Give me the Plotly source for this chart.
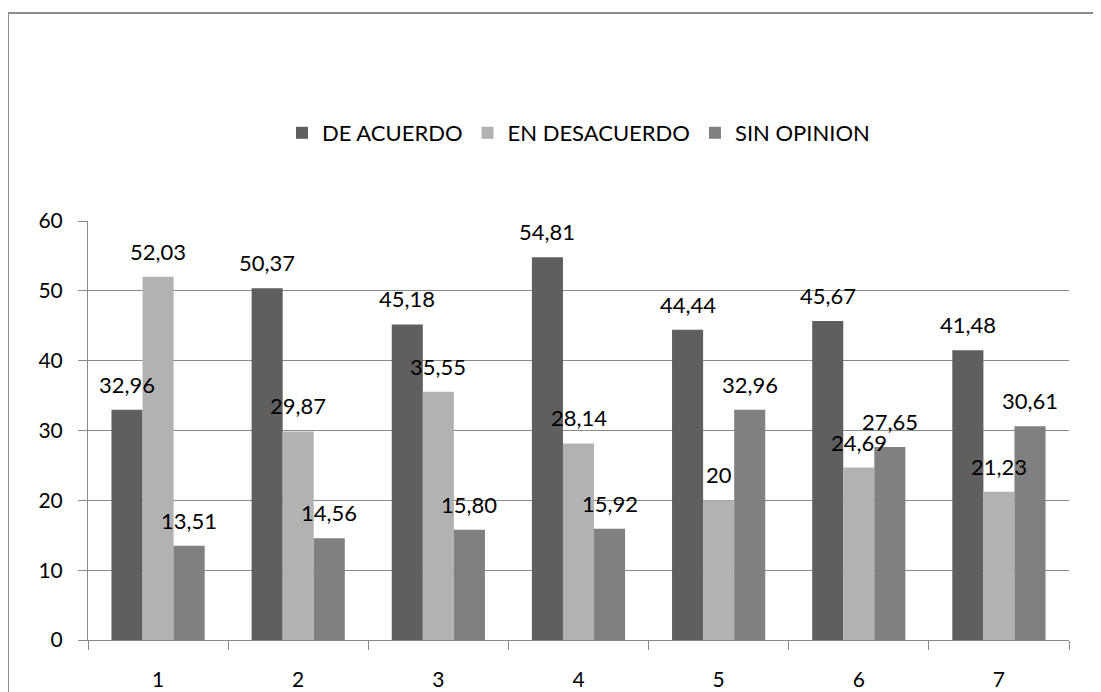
import plotly.graph_objects as go

categories = ["1", "2", "3", "4", "5", "6", "7"]
series_names = ["DE ACUERDO", "EN DESACUERDO", "SIN OPINION"]
de_acuerdo = [32.96, 50.37, 45.18, 54.81, 44.44, 45.67, 41.48]
en_desacuerdo = [52.03, 29.87, 35.55, 28.14, 20, 24.69, 21.23]
sin_opinion = [13.51, 14.56, 15.80, 15.92, 32.96, 27.65, 30.61]
de_acuerdo_labels = ["32,96", "50,37", "45,18", "54,81", "44,44", "45,67", "41,48"]
en_desacuerdo_labels = ["52,03", "29,87", "35,55", "28,14", "20", "24,69", "21,23"]
sin_opinion_labels = ["13,51", "14,56", "15,80", "15,92", "32,96", "27,65", "30,61"]
y_ticks = [0, 10, 20, 30, 40, 50, 60]

colors = ["#5f5f5f", "#b2b2b2", "#808080"]
FONT = "Lato"
GRID = "#8a8a8a"

# page has an 8px body margin; figure sized so the plot lands where the reference has it
W, H = 1093, 684
ML, MR, MT, MB = 80, 32, 213, 52
OFF = 8  # body margin

series = [de_acuerdo, en_desacuerdo, sin_opinion]
labels = [de_acuerdo_labels, en_desacuerdo_labels, sin_opinion_labels]

fig = go.Figure()
for name, vals, col in zip(series_names, series, colors):
    fig.add_trace(go.Bar(x=categories, y=vals, name=name,
                         marker=dict(color=col, line=dict(width=0))))

pw = W - ML - MR
ph = H - MT - MB
plot_left_page = ML + OFF
plot_bottom_page = H - MB + OFF

bar_px = pw / 7 * (1 - 0.335) / 3
annotations = []
for i, (vals, labs) in enumerate(zip(series, labels)):
    for j, (v, t) in enumerate(zip(vals, labs)):
        annotations.append(dict(x=j, y=v, xref="x", yref="y", text=t,
                                showarrow=False, yanchor="bottom",
                                xshift=(i - 1) * bar_px, yshift=10,
                                font=dict(family=FONT, size=22, color="#000000")))

# chart border (left and top visible; continues beyond the image)
shapes = [dict(type="rect", xref="paper", yref="paper",
               x0=(8 - plot_left_page) / pw, x1=(W + 60 - ML) / pw,
               y0=-(80) / ph, y1=(plot_bottom_page - 13) / ph,
               line=dict(color="#8c8c8c", width=2), layer="below")]

fig.update_layout(
    template="none",
    width=W, height=H,
    margin=dict(l=ML, r=MR, t=MT, b=MB, autoexpand=False),
    paper_bgcolor="white", plot_bgcolor="white",
    barmode="group", bargap=0.335, bargroupgap=0,
    font=dict(family=FONT, size=22, color="#000000"),
    showlegend=True,
    legend=dict(orientation="h", x=0.5, xanchor="center",
                y=(plot_bottom_page - 133) / ph, yanchor="middle",
                font=dict(family=FONT, size=22, color="#000000"),
                bgcolor="rgba(0,0,0,0)",
                traceorder="normal", itemclick=False),
    annotations=annotations,
    shapes=shapes,
)
fig.update_xaxes(type="category", tickson="boundaries", ticks="outside",
                 range=[-0.5, 6.5], automargin=False,
                 ticklen=9, tickcolor=GRID, tickwidth=1,
                 showline=True, linecolor=GRID, linewidth=1,
                 showgrid=False, zeroline=False,
                 tickfont=dict(family=FONT, size=21, color="#000000"),
                 ticklabelstandoff=21, fixedrange=True)
fig.update_yaxes(range=[0, 60], tickvals=y_ticks, ticks="outside",
                 automargin=False,
                 ticklen=9, tickcolor=GRID, tickwidth=1,
                 showline=True, linecolor=GRID, linewidth=1,
                 showgrid=True, gridcolor=GRID, gridwidth=1,
                 zeroline=False,
                 tickfont=dict(family=FONT, size=21, color="#000000"),
                 ticklabelstandoff=11, fixedrange=True)

fig.write_html("out.html")
